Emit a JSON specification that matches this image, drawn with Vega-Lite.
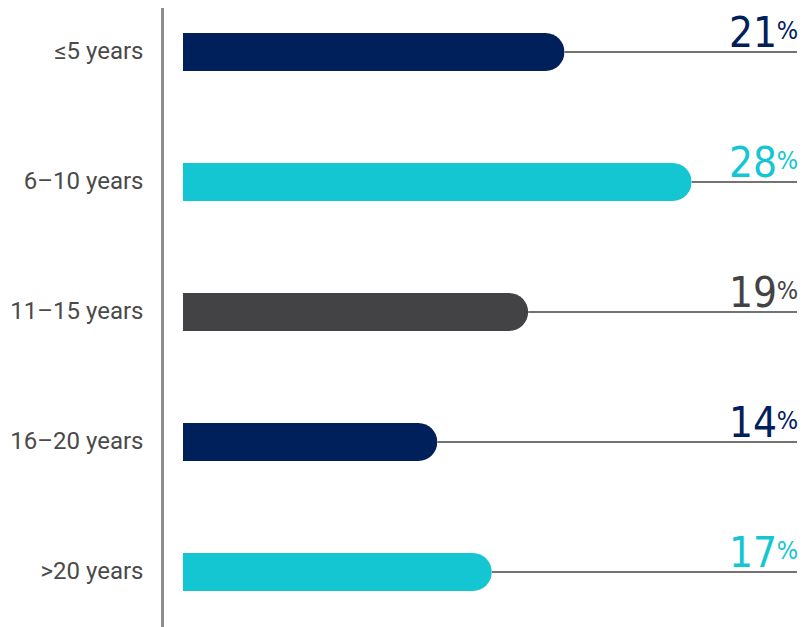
{
  "$schema": "https://vega.github.io/schema/vega-lite/v6.json",
  "autosize": {"type": "none"},
  "padding": {"left": 163, "top": 8, "right": 0, "bottom": 0},
  "width": 640,
  "height": 619,
  "background": "#ffffff",
  "config": {"view": {"stroke": null}},
  "data": {
    "values": [
      {"cat": "≤5 years", "pct": 21},
      {"cat": "6–10 years", "pct": 28},
      {"cat": "11–15 years", "pct": 19},
      {"cat": "16–20 years", "pct": 14},
      {"cat": ">20 years", "pct": 17}
    ]
  },
  "encoding": {
    "y": {
      "field": "cat", "type": "nominal", "sort": null,
      "scale": {"range": [-21, 629], "paddingInner": 0, "paddingOuter": 0},
      "axis": {
        "title": null, "domain": false, "ticks": false, "labelPadding": 20,
        "labelFont": "Roboto", "labelFontSize": 24, "labelColor": "#4a4a4a",
        "labelLimit": 300
      }
    }
  },
  "layer": [
    {
      "mark": {"type": "rule", "color": "#8c8c8c", "strokeWidth": 2},
      "encoding": {
        "x": {"datum": -1.128, "type": "quantitative", "scale": {"domain": [0, 33.8], "range": [20, 634], "nice": false, "zero": false}, "axis": null},
        "y": null
      }
    },
    {
      "mark": {"type": "rule", "color": "#444444", "strokeWidth": 1.5},
      "encoding": {
        "x": {"field": "pct", "type": "quantitative"},
        "x2": {"datum": 33.8}
      }
    },
    {
      "mark": {"type": "bar", "height": 38, "cornerRadiusEnd": 19},
      "encoding": {
        "x": {"field": "pct", "type": "quantitative"},
        "color": {
          "field": "cat", "type": "nominal", "legend": null,
          "scale": {"domain": ["≤5 years", "6–10 years", "11–15 years", "16–20 years", ">20 years"],
                    "range": ["#00205b", "#14c6d2", "#434346", "#00205b", "#14c6d2"]}
        }
      }
    },
    {
      "mark": {"type": "text", "align": "right", "baseline": "alphabetic", "dx": -20, "dy": -5,
               "font": "DejaVu Sans Condensed, Roboto, sans-serif", "fontSize": 42},
      "encoding": {
        "x": {"datum": 33.8, "type": "quantitative"},
        "text": {"field": "pct", "type": "quantitative"},
        "color": {"field": "cat", "type": "nominal", "legend": null}
      }
    },
    {
      "mark": {"type": "text", "align": "right", "baseline": "alphabetic", "dx": 1, "dy": -13,
               "font": "DejaVu Sans Condensed, Roboto, sans-serif", "fontSize": 25},
      "encoding": {
        "x": {"datum": 33.8, "type": "quantitative"},
        "text": {"value": "%"},
        "color": {"field": "cat", "type": "nominal", "legend": null}
      }
    }
  ]
}
